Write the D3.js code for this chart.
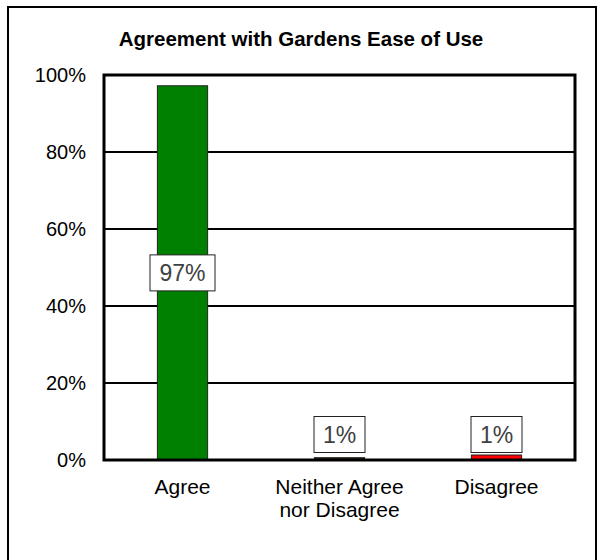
<!DOCTYPE html>
<html>
<head>
<meta charset="utf-8">
<script src="https://cdn.jsdelivr.net/npm/d3@7"></script>
<style>
  body { margin: 0; background: #fff; }
  svg { font-family: Arial, "Liberation Sans", sans-serif; }
</style>
</head>
<body>
<svg id="chart" width="601" height="560"></svg>
<script>
// data
var categories = ["Agree", "Neither Agree\nnor Disagree", "Disagree"];
var values = [97.2, 0.6, 1.3];
var labels = ["97%", "1%", "1%"];
var barColors = ["#008000", "#3a2a1a", "#ff0000"];
var ticks = [0, 20, 40, 60, 80, 100];

var svg = d3.select("#chart");
var margin = { left: 104, right: 26, top: 75, bottom: 100 };

// outer frame (runs off the bottom/right edge)
svg.append("rect")
  .attr("x", 8).attr("y", 7)
  .attr("width", 588).attr("height", 560)
  .attr("fill", "none")
  .attr("stroke", "#000")
  .attr("stroke-width", 2);

svg.append("text")
  .attr("x", 301).attr("y", 46)
  .attr("text-anchor", "middle")
  .style("font-size", "20.5px")
  .style("font-weight", "bold")
  .text("Agreement with Gardens Ease of Use");

var x = d3.scaleBand()
  .domain(categories)
  .range([margin.left, 575])
  .paddingInner(0.68)
  .paddingOuter(0.34);

var y = d3.scaleLinear()
  .domain([0, 100])
  .range([460, 75]);

// gridlines
svg.append("g").selectAll("line")
  .data(ticks.slice(1, -1))
  .enter().append("line")
  .attr("x1", margin.left).attr("x2", 575)
  .attr("y1", function(d) { return y(d); })
  .attr("y2", function(d) { return y(d); })
  .attr("stroke", "#000")
  .attr("stroke-width", 2);

// y tick labels
svg.append("g").selectAll("text")
  .data(ticks)
  .enter().append("text")
  .attr("x", 86)
  .attr("y", function(d) { return y(d) + 7; })
  .attr("text-anchor", "end")
  .style("font-size", "20px")
  .attr("fill", "#000")
  .text(function(d) { return d + "%"; });

// bars
svg.append("g").selectAll("rect")
  .data(values)
  .enter().append("rect")
  .attr("x", function(d, i) { return x(categories[i]); })
  .attr("y", function(d) { return y(d); })
  .attr("width", x.bandwidth())
  .attr("height", function(d) { return 460 - y(d); })
  .attr("fill", function(d, i) { return barColors[i]; })
  .attr("stroke", "#222")
  .attr("stroke-width", 1);

// plot frame
svg.append("rect")
  .attr("x", margin.left).attr("y", 75)
  .attr("width", 575 - margin.left).attr("height", 385)
  .attr("fill", "none")
  .attr("stroke", "#000")
  .attr("stroke-width", 3);

// data labels
var lab = svg.append("g").selectAll("g")
  .data(values)
  .enter().append("g")
  .attr("transform", function(d, i) {
    var cx = x(categories[i]) + x.bandwidth() / 2;
    var cy = i === 0 ? (y(d) + 460) / 2 : 434.5;
    return "translate(" + cx + "," + cy + ")";
  });

lab.append("rect")
  .attr("x", function(d, i) { return i === 0 ? -32.5 : -25.5; })
  .attr("y", -18)
  .attr("width", function(d, i) { return i === 0 ? 65 : 51; })
  .attr("height", 36)
  .attr("fill", "#fff")
  .attr("stroke", "#222")
  .attr("stroke-width", 1);

lab.append("text")
  .attr("text-anchor", "middle")
  .attr("y", 8.5)
  .style("font-size", "23px")
  .attr("fill", "#404040")
  .text(function(d, i) { return labels[i]; });

// category labels
var cat = svg.append("g").selectAll("text")
  .data(categories)
  .enter().append("text")
  .attr("x", function(d) { return x(d) + x.bandwidth() / 2; })
  .attr("y", 494)
  .attr("text-anchor", "middle")
  .style("font-size", "21px")
  .attr("fill", "#000");

cat.selectAll("tspan")
  .data(function(d) { return d.split("\n"); })
  .enter().append("tspan")
  .attr("x", function() { return d3.select(this.parentNode).attr("x"); })
  .attr("dy", function(d, i) { return i === 0 ? 0 : 23; })
  .text(function(d) { return d; });
</script>
</body>
</html>
